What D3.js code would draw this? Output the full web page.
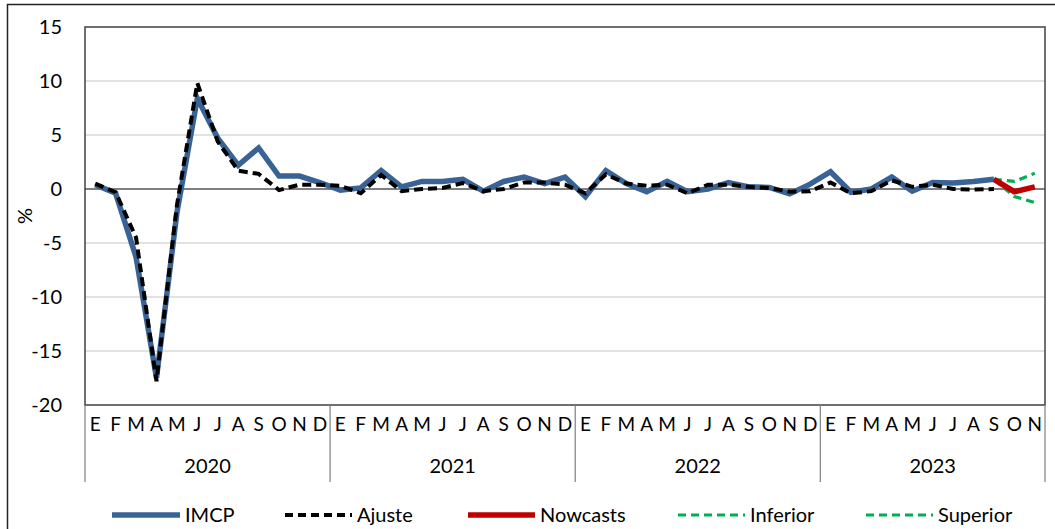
<!DOCTYPE html>
<html>
<head>
<meta charset="utf-8">
<script src="https://cdn.jsdelivr.net/npm/d3@7"></script>
<style>
  html, body { margin: 0; padding: 0; background: #fff; }
  svg { display: block; }
  text { font-family: Lato, "Liberation Sans", Arial, sans-serif; fill: #000; }
</style>
</head>
<body>
<svg id="chart" width="1055" height="529"></svg>
<script>
// ---- data ----
const monthLabels = ["E","F","M","A","M","J","J","A","S","O","N","D"];
const years = ["2020","2021","2022","2023"];
const lastYearMonths = 11; // 2023 ends in November
const yTicks = [-20,-15,-10,-5,0,5,10,15];

const imcp = [
  0.4, -0.4, -6.3, -17.5, -2.2, 8.4, 4.7, 2.2, 3.8, 1.2, 1.2, 0.6,
  -0.1, 0.1, 1.7, 0.2, 0.7, 0.7, 0.9, -0.2, 0.7, 1.1, 0.5, 1.1,
  -0.7, 1.7, 0.5, -0.25, 0.7, -0.25, 0.0, 0.6, 0.2, 0.15, -0.45, 0.45,
  1.6, -0.3, 0.0, 1.1, -0.2, 0.6, 0.55, 0.7, 0.9
];
const ajuste = [
  0.5, -0.3, -4.5, -17.8, -1.5, 9.8, 4.4, 1.7, 1.4, -0.1, 0.4, 0.4,
  0.3, -0.4, 1.3, -0.2, 0.0, 0.1, 0.55, -0.2, 0.0, 0.6, 0.6, 0.4,
  -0.4, 1.35, 0.5, 0.3, 0.4, -0.4, 0.4, 0.4, 0.2, 0.1, -0.25, -0.2,
  0.6, -0.4, -0.2, 0.8, 0.2, 0.4, 0.0, -0.05, 0.0
];
const forecastStart = 44; // index of Sep 2023
const nowcasts = [0.9, -0.25, 0.2];
const inferior = [0.9, -0.7, -1.25];
const superior = [0.9, 0.7, 1.45];

// ---- build month index ----
const periods = [];
years.forEach((y, yi) => {
  const n = yi === years.length - 1 ? lastYearMonths : 12;
  for (let m = 0; m < n; m++) periods.push({ key: y + "-" + m, year: y, label: monthLabels[m] });
});

const svg = d3.select("#chart");
const L = 85, R = 1045, T = 27, B = 405;

const x = d3.scaleBand().domain(periods.map(p => p.key)).range([L, R]).padding(0);
const y = d3.scaleLinear().domain([-20, 15]).range([B, T]);
const cx = i => x(periods[i].key) + x.bandwidth() / 2;

// outer frame
svg.append("rect").attr("x", 7.5).attr("y", 4.5).attr("width", 1200).attr("height", 700)
  .attr("fill", "none").attr("stroke", "#222").attr("stroke-width", 1.5);

// gridlines
svg.append("g").selectAll("line").data(yTicks.filter(t => t !== 0 && t !== 15 && t !== -20)).join("line")
  .attr("x1", L).attr("x2", R).attr("y1", d => y(d)).attr("y2", d => y(d))
  .attr("stroke", "#d9d9d9").attr("stroke-width", 1.5);

// y axis labels
const yAxis = d3.axisLeft(y).tickValues(yTicks).tickSize(0).tickPadding(0).tickFormat(d => String(d));
const gy = svg.append("g").attr("transform", `translate(${L - 23},0)`).call(yAxis);
gy.select(".domain").remove();
gy.selectAll("text").attr("font-size", 20).attr("font-family", "Lato, 'Liberation Sans', Arial, sans-serif").attr("fill", "#000");

// "%"
svg.append("text").attr("transform", `translate(32,${y(-2.5)}) rotate(-90)`)
  .attr("text-anchor", "middle").attr("font-size", 20).text("%");

// zero line
svg.append("line").attr("x1", L).attr("x2", R).attr("y1", y(0)).attr("y2", y(0))
  .attr("stroke", "#000").attr("stroke-width", 1);

// plot border
svg.append("rect").attr("x", L).attr("y", T).attr("width", R - L).attr("height", B - T)
  .attr("fill", "none").attr("stroke", "#404040").attr("stroke-width", 1.5);

// category axis: month labels
const xAxis = d3.axisBottom(x).tickSize(0).tickPadding(0).tickFormat(k => periods.find(p => p.key === k).label);
const gx = svg.append("g").attr("transform", `translate(0,${B + 12})`).call(xAxis);
gx.select(".domain").remove();
gx.selectAll("text").attr("font-size", 19).attr("font-family", "Lato, 'Liberation Sans', Arial, sans-serif")
  .attr("fill", "#000").attr("dy", "0.71em");

// year separators and labels
const yearStartIdx = years.map(yr => periods.findIndex(p => p.year === yr));
const yearBounds = years.map((yr, i) => {
  const s = yearStartIdx[i];
  const e = i < years.length - 1 ? yearStartIdx[i + 1] : periods.length;
  return { yr, x0: x(periods[s].key), x1: e < periods.length ? x(periods[e].key) : R };
});
const sepX = [L, ...yearBounds.map(b => b.x1)];
svg.append("g").selectAll("line").data(sepX).join("line")
  .attr("x1", d => d).attr("x2", d => d).attr("y1", B).attr("y2", 482)
  .attr("stroke", "#7f7f7f").attr("stroke-width", 1.2);
svg.append("g").selectAll("text").data(yearBounds).join("text")
  .attr("x", d => (d.x0 + d.x1) / 2).attr("y", 473)
  .attr("text-anchor", "middle").attr("font-size", 20).text(d => d.yr);

// lines
const line = d3.line().x(d => cx(d.i)).y(d => y(d.v));
const toPts = (arr, off) => arr.map((v, j) => ({ i: j + off, v }));

svg.append("path").datum(toPts(imcp, 0)).attr("d", line)
  .attr("fill", "none").attr("stroke", "#3a6395").attr("stroke-width", 5.5).attr("stroke-linejoin", "miter");
svg.append("path").datum(toPts(ajuste, 0)).attr("d", line)
  .attr("fill", "none").attr("stroke", "#000").attr("stroke-width", 4).attr("stroke-dasharray", "9,5");
svg.append("path").datum(toPts(inferior, forecastStart)).attr("d", line)
  .attr("fill", "none").attr("stroke", "#00b050").attr("stroke-width", 3.2).attr("stroke-dasharray", "8,5");
svg.append("path").datum(toPts(superior, forecastStart)).attr("d", line)
  .attr("fill", "none").attr("stroke", "#00b050").attr("stroke-width", 3.2).attr("stroke-dasharray", "8,5");
svg.append("path").datum(toPts(nowcasts, forecastStart)).attr("d", line)
  .attr("fill", "none").attr("stroke", "#c00000").attr("stroke-width", 5.5);

// legend
const legend = [
  { name: "IMCP", color: "#3a6395", w: 5.5, dash: null, x0: 112, x1: 180 },
  { name: "Ajuste", color: "#000", w: 4, dash: "8,5", x0: 285, x1: 352 },
  { name: "Nowcasts", color: "#c00000", w: 5.5, dash: null, x0: 468, x1: 535 },
  { name: "Inferior", color: "#00b050", w: 3.2, dash: "8,5", x0: 678, x1: 745 },
  { name: "Superior", color: "#00b050", w: 3.2, dash: "8,5", x0: 866, x1: 933 }
];
const lg = svg.append("g").selectAll("g").data(legend).join("g");
lg.append("line").attr("x1", d => d.x0).attr("x2", d => d.x1).attr("y1", 515).attr("y2", 515)
  .attr("stroke", d => d.color).attr("stroke-width", d => d.w).attr("stroke-dasharray", d => d.dash);
lg.append("text").attr("x", d => d.x1 + 5).attr("y", 522).attr("font-size", 20).text(d => d.name);
</script>
</body>
</html>
